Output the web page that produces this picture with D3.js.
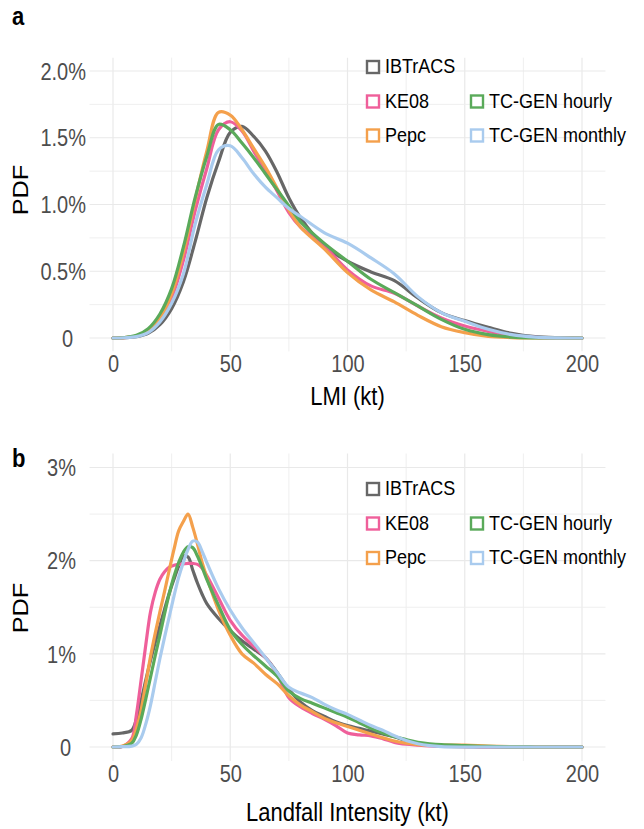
<!DOCTYPE html>
<html><head><meta charset="utf-8">
<script src="https://cdn.jsdelivr.net/npm/d3@7"></script>
<style>body{margin:0;background:#fff}</style>
</head><body><svg id="c" width="644" height="829"></svg>
<script>
// ---------- data ----------
const seriesNames = ["IBTrACS", "KE08", "Pepc", "TC-GEN hourly", "TC-GEN monthly"];
const seriesColors = ["#676767", "#ef5f9a", "#f4a04c", "#5aaa5a", "#a9cbee"];
const xTicks = [0, 50, 100, 150, 200];
const xLabels = ["0", "50", "100", "150", "200"];

// panel a: LMI (kt), PDF in %
const lmiX = [0,5,10,15,20,25,30,35,40,45,50,55,60,65,70,75,80,90,100,110,120,130,140,150,160,170,180,190,200];
const lmiIBTrACS = [0,0.002,0.01,0.035,0.1,0.22,0.42,0.72,1.05,1.32,1.54,1.585,1.51,1.40,1.24,1.05,0.90,0.69,0.575,0.495,0.43,0.30,0.19,0.13,0.08,0.035,0.01,0.002,0];
const lmiKE08     = [0,0.003,0.015,0.05,0.14,0.3,0.58,0.95,1.27,1.56,1.62,1.55,1.40,1.25,1.10,0.94,0.83,0.69,0.51,0.39,0.335,0.24,0.15,0.09,0.05,0.02,0.005,0.001,0];
const lmiPepc     = [0,0.003,0.015,0.055,0.15,0.33,0.64,1.03,1.40,1.69,1.67,1.56,1.42,1.28,1.12,0.96,0.83,0.67,0.49,0.36,0.27,0.17,0.085,0.04,0.012,0.003,0,0,0];
const lmiHourly   = [0,0.004,0.02,0.07,0.18,0.37,0.68,1.05,1.36,1.60,1.56,1.46,1.35,1.23,1.11,0.99,0.87,0.71,0.575,0.44,0.34,0.24,0.14,0.065,0.025,0.007,0.001,0,0];
const lmiMonthly  = [0,0.002,0.01,0.04,0.12,0.26,0.48,0.85,1.15,1.41,1.44,1.35,1.23,1.13,1.05,0.97,0.91,0.79,0.71,0.60,0.48,0.31,0.19,0.125,0.065,0.025,0.007,0.001,0];
const lmiYTicks = [0, 0.5, 1.0, 1.5, 2.0];
const lmiYLabels = ["0", "0.5%", "1.0%", "1.5%", "2.0%"];

// panel b: Landfall intensity (kt), PDF in %
const lfX = [0,4,8,10,12,14,16,18,20,22,24,26,28,30,32,34,36,38,40,45,50,55,60,65,70,75,80,85,90,95,100,105,110,115,120,125,130,135,140,150,160,170,180,190,200];
const lfIBTrACS = [0.14,0.15,0.18,0.3,0.5,0.72,0.93,1.12,1.3,1.48,1.65,1.8,1.94,2.05,2.04,1.9,1.76,1.64,1.54,1.38,1.25,1.14,1.05,0.96,0.8,0.62,0.48,0.39,0.33,0.27,0.23,0.2,0.17,0.14,0.11,0.07,0.04,0.02,0.01,0.003,0.001,0,0,0,0];
const lfKE08     = [0,0.005,0.09,0.35,0.72,1.1,1.45,1.66,1.8,1.88,1.93,1.95,1.96,1.965,1.97,1.97,1.96,1.92,1.84,1.6,1.36,1.2,1.08,0.96,0.78,0.53,0.43,0.36,0.3,0.23,0.15,0.13,0.12,0.09,0.05,0.03,0.02,0.012,0.008,0.004,0.002,0.001,0,0,0];
const lfPepc     = [0,0.01,0.07,0.2,0.4,0.68,0.97,1.22,1.45,1.67,1.9,2.12,2.32,2.42,2.5,2.36,2.18,1.98,1.82,1.47,1.2,1.0,0.9,0.78,0.68,0.55,0.45,0.38,0.31,0.26,0.22,0.18,0.14,0.1,0.065,0.04,0.025,0.02,0.02,0.02,0.01,0.004,0.001,0,0];
const lfHourly   = [0,0.005,0.04,0.13,0.3,0.52,0.75,0.98,1.2,1.43,1.65,1.83,1.98,2.09,2.15,2.14,2.05,1.93,1.8,1.52,1.26,1.1,0.98,0.87,0.76,0.6,0.52,0.47,0.42,0.37,0.32,0.26,0.2,0.15,0.11,0.08,0.05,0.035,0.025,0.015,0.006,0.002,0,0,0];
const lfMonthly  = [0,0.003,0.01,0.03,0.1,0.25,0.45,0.7,0.95,1.18,1.4,1.62,1.82,1.98,2.12,2.21,2.2,2.1,1.98,1.7,1.47,1.28,1.12,0.96,0.8,0.64,0.58,0.53,0.46,0.4,0.35,0.29,0.23,0.18,0.12,0.07,0.035,0.015,0.005,0,0,0,0,0,0];
const lfYTicks = [0, 1, 2, 3];
const lfYLabels = ["0", "1%", "2%", "3%"];

// ---------- drawing ----------
const FONT = "'Liberation Sans', Arial, Helvetica, sans-serif";
const SY = 1.15; // vertical stretch of glyphs in the reference
const svg = d3.select("#c").style("font-family", FONT);
svg.append("rect").attr("width", 644).attr("height", 829).attr("fill", "#fff");

function stretchedText(g, x, y, s, opt) {
  const t = g.append("text")
    .attr("transform", `translate(${x},${y}) scale(1,${SY})` + (opt.rotate ? " rotate(-90)" : ""))
    .attr("text-anchor", opt.anchor || "start")
    .attr("font-size", opt.size)
    .attr("font-weight", opt.weight || "normal")
    .attr("fill", opt.fill || "#000")
    .text(s);
  return t;
}

function panel(cfg) {
  const g = svg.append("g");
  const x = d3.scaleLinear().domain([0, 200]).range([113, 582]);
  const y = d3.scaleLinear().domain([0, cfg.yMax]).range([cfg.y0, cfg.yTop]);
  const left = x(-10), right = x(210);
  const top = y(cfg.yMax + cfg.yMax * 0.05), bottom = y(-cfg.yMax * 0.05);

  // grid (minor + major)
  const xMinor = d3.range(25, 200, 50);
  g.append("g").selectAll("line").data(xMinor).join("line")
    .attr("x1", d => x(d)).attr("x2", d => x(d)).attr("y1", top).attr("y2", bottom)
    .attr("stroke", "#ededed").attr("stroke-width", 0.9);
  g.append("g").selectAll("line").data(xTicks).join("line")
    .attr("x1", d => x(d)).attr("x2", d => x(d)).attr("y1", top).attr("y2", bottom)
    .attr("stroke", "#e9e9e9").attr("stroke-width", 1.2);
  const yMinor = cfg.yTicks.slice(0, -1).map((d, i) => (d + cfg.yTicks[i + 1]) / 2);
  g.append("g").selectAll("line").data(yMinor).join("line")
    .attr("x1", left).attr("x2", right).attr("y1", d => y(d)).attr("y2", d => y(d))
    .attr("stroke", "#ededed").attr("stroke-width", 0.9);
  g.append("g").selectAll("line").data(cfg.yTicks).join("line")
    .attr("x1", left).attr("x2", right).attr("y1", d => y(d)).attr("y2", d => y(d))
    .attr("stroke", "#e9e9e9").attr("stroke-width", 1.2);

  // curves
  const line = d3.line().x(d => x(d[0])).y(d => y(d[1])).curve(d3.curveCatmullRom.alpha(0.5));
  cfg.series.forEach((vals, i) => {
    g.append("path").datum(cfg.xs.map((xv, j) => [xv, vals[j]]))
      .attr("d", line).attr("fill", "none")
      .attr("stroke", seriesColors[i]).attr("stroke-width", 3.2)
      .attr("stroke-linejoin", "round").attr("stroke-linecap", "round");
  });

  // x axis (tick labels only)
  const xa = g.append("g").attr("transform", `translate(0,${cfg.xLabelY})`)
    .call(d3.axisBottom(x).tickValues(xTicks).tickFormat((d, i) => xLabels[i]).tickSize(0).tickPadding(0));
  xa.select(".domain").remove();
  xa.selectAll("text").attr("y", 0).attr("dy", null)
    .attr("transform", `scale(1,${SY})`)
    .attr("font-size", 20).attr("font-family", FONT).attr("fill", "#4d4d4d");

  // y axis (tick labels only)
  const ya = g.append("g").attr("transform", `translate(${cfg.yLabelRight},0)`)
    .call(d3.axisLeft(y).tickValues(cfg.yTicks).tickFormat((d, i) => cfg.yLabels[i]).tickSize(0).tickPadding(0));
  ya.select(".domain").remove();
  ya.selectAll("text").attr("x", d => d === 0 ? cfg.zeroShift : 0).attr("dy", null)
    .attr("y", 0)
    .attr("transform", `translate(0,8.2) scale(1,${SY})`)
    .attr("font-size", 20).attr("font-family", FONT).attr("fill", "#4d4d4d");

  // titles
  stretchedText(g, (left + right) / 2, cfg.xTitleY, cfg.xTitle, {anchor: "middle", size: 22});
  stretchedText(g, 28, cfg.yTitleMid, "PDF", {anchor: "middle", size: 22, rotate: true});
  stretchedText(g, 12, cfg.tagY, cfg.tag, {size: 22, weight: "bold"});

  // legend
  const lg = g.append("g");
  seriesNames.forEach((name, i) => {
    const col = i < 3 ? 0 : 1, row = i < 3 ? i : i - 2;
    const kx = col === 0 ? 367 : 471, cy = cfg.legendY[row];
    lg.append("rect").attr("x", kx).attr("y", cy - 6).attr("width", 12).attr("height", 12)
      .attr("fill", "#fff").attr("stroke", seriesColors[i]).attr("stroke-width", 2.4);
    stretchedText(lg, kx + 18, cy + 6.4, name, {size: 18});
  });
}

panel({
  xs: lmiX, series: [lmiIBTrACS, lmiKE08, lmiPepc, lmiHourly, lmiMonthly],
  yMax: 2, y0: 338, yTop: 71, yTicks: lmiYTicks, yLabels: lmiYLabels,
  yLabelRight: 86, zeroShift: -13, xLabelY: 372, xTitle: "LMI (kt)", xTitleY: 405,
  yTitleMid: 190, tag: "a", tagY: 25, legendY: [67, 101.5, 135.5]
});
panel({
  xs: lfX, series: [lfIBTrACS, lfKE08, lfPepc, lfHourly, lfMonthly],
  yMax: 3, y0: 747, yTop: 467.5, yTicks: lfYTicks, yLabels: lfYLabels,
  yLabelRight: 76, zeroShift: -5, xLabelY: 782, xTitle: "Landfall Intensity (kt)", xTitleY: 821,
  yTitleMid: 608, tag: "b", tagY: 467, legendY: [489, 523.5, 558]
});
</script></body></html>
